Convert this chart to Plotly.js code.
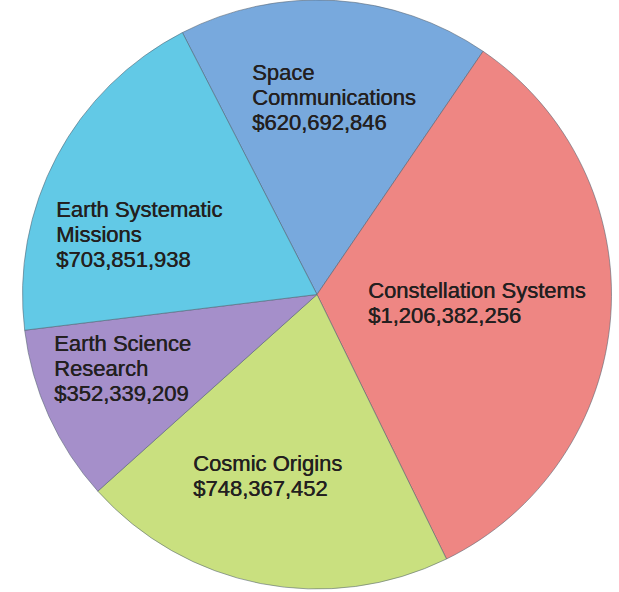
<!DOCTYPE html>
<html>
<head>
<meta charset="utf-8">
<script src="https://cdn.plot.ly/plotly-3.0.1.min.js"></script>
<style>html,body{margin:0;padding:0;background:#fff;}#chart{width:619px;height:592px;}</style>
</head>
<body>
<div id="chart"></div>
<script>
// Data
const categories = ["Space Communications", "Constellation Systems", "Cosmic Origins", "Earth Science Research", "Earth Systematic Missions"];
const displayLines = [["Space", "Communications"], ["Constellation Systems"], ["Cosmic Origins"], ["Earth Science", "Research"], ["Earth Systematic", "Missions"]];
const budgets = [620692846, 1206382256, 748367452, 352339209, 703851938];
const sliceColors = ["#78a9dd", "#ee8683", "#c9e07f", "#a58fca", "#62c9e6"];

// Label anchor positions (pixels: left x, first baseline y)
const labelPos = [[251, 80], [367, 298], [192, 471], [53, 351], [55, 217]];

const W = 619, H = 592, FS = 22, LH = 25;
const fmt = v => "$" + v.toLocaleString("en-US");

const annotations = [];
categories.forEach((c, i) => {
  const lines = displayLines[i].concat([fmt(budgets[i])]);
  lines.forEach((ln, j) => {
    const base = labelPos[i][1] + j * LH;
    const mid = base - 7.5;
    annotations.push({
      text: ln, showarrow: false, xref: "paper", yref: "paper",
      x: labelPos[i][0] / W, y: 1 - mid / H,
      xanchor: "left", yanchor: "middle", align: "left",
      borderpad: 0,
      font: {family: "Liberation Sans, Arial, sans-serif", size: FS, color: "#231f20",
             shadow: "0.45px 0px 0px #231f20"}
    });
  });
});

const cx = 317, cy = 294, r = 295;
const trace = {
  type: "pie",
  labels: categories,
  values: budgets,
  sort: false,
  direction: "clockwise",
  rotation: -27.2,
  textinfo: "none",
  hoverinfo: "label+value",
  marker: {colors: sliceColors, line: {color: "rgba(80,95,110,0.55)", width: 1}},
  domain: {x: [(cx - r) / W, (cx + r) / W], y: [1 - (cy + r) / H, 1 - (cy - r) / H]}
};

const layout = {
  width: W, height: H,
  margin: {l: 0, r: 0, t: 0, b: 0},
  paper_bgcolor: "#ffffff",
  showlegend: false,
  annotations: annotations
};

Plotly.newPlot("chart", [trace], layout, {displayModeBar: false, staticPlot: true});
</script>
</body>
</html>
